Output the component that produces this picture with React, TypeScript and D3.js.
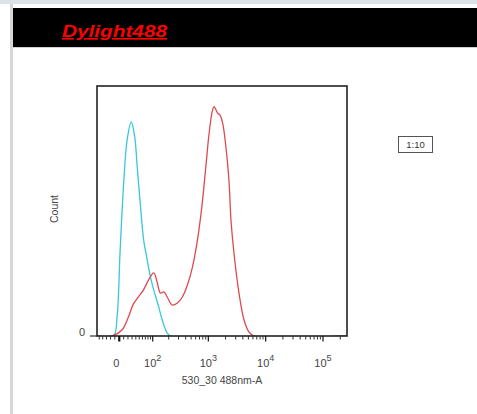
import React from 'react';
import * as d3 from 'd3';

// fluorescence value (530/30 488nm-A) and % of max count
const blueX = [-57, -13, -5, 2, 10, 18, 28, 37, 44, 54, 64, 77, 90, 105, 131, 152, 188, 216, 262144];
const blueY = [0, 0, 8.3, 37.5, 66.7, 85.5, 93.3, 86.8, 73.7, 56.2, 41.9, 33.1, 25.7, 20, 12.6, 7, 1.3, 0, 0];

const redX = [-57, -17, 6, 21, 33, 47, 63, 82, 105, 122, 141, 163, 188, 232, 286, 351, 430, 527, 646, 769, 904, 1033, 1184, 1263, 1449, 1590, 1775, 2028, 2290, 2483, 2800, 3427, 4193, 5134, 6286, 262144];
const redY = [0, 0, 2.6, 8.3, 13.8, 17, 20, 24.4, 27.5, 23.5, 18.7, 19.2, 17, 13.5, 14.4, 17, 22.2, 30, 41.9, 56.2, 73.7, 88.5, 98.5, 100, 97.2, 96.4, 92.9, 82.4, 68, 50.6, 36.2, 18.7, 7, 1.7, 0, 0];

const majorTicks = [0, 100, 1000, 10000, 100000];
const majorLabels = ['0', '2', '3', '4', '5'];
const minorTicks = [-50, -40, -30, -20, -10, 10, 20, 30, 40, 50, 60, 70, 80, 90,
  200, 300, 400, 500, 600, 700, 800, 900,
  2000, 3000, 4000, 5000, 6000, 7000, 8000, 9000,
  20000, 30000, 40000, 50000, 60000, 70000, 80000, 90000, 200000];

const A = 56;
const font = 'Arial, "Liberation Sans", sans-serif';

export default function App() {
  const left = 97, right = 347, top = 86, bottom = 336;
  const lin = d3.scaleLinear()
    .domain([Math.asinh(-57 / A), Math.asinh(262144 / A)])
    .range([left, right]);
  const x = (v: number) => lin(Math.asinh(v / A));
  const y = d3.scaleLinear().domain([0, 109]).range([bottom, top]);

  const line = d3.line<[number, number]>()
    .x(d => x(d[0]))
    .y(d => Math.min(bottom, y(d[1])))
    .curve(d3.curveCatmullRom.alpha(0.5));

  const blue = blueX.map((v, i) => [v, blueY[i]] as [number, number]);
  const red = redX.map((v, i) => [v, redY[i]] as [number, number]);

  return (
    <div style={{ position: 'fixed', left: 0, top: 0 }}>
      <svg width={477} height={414} style={{ display: 'block', fontFamily: font }}>
        <rect x={0} y={0} width={477} height={414} fill="#fff" />
        <rect x={0} y={0} width={477} height={4} fill="#dde2e8" />
        <rect x={10} y={4} width={3} height={410} fill="#d6d6d6" />
        <rect x={13} y={8} width={464} height={39} fill="#000" />
        <rect x={13} y={47} width={464} height={1} fill="#d0d0d0" />
        <text x={62} y={37} fontSize={16.5} fontWeight="bold" fontStyle="italic" fill="#f00"
          textDecoration="underline" textLength={105} lengthAdjust="spacingAndGlyphs">Dylight488</text>

        <clipPath id="plot">
          <rect x={left} y={top} width={right - left} height={bottom - top} />
        </clipPath>
        <g clipPath="url(#plot)" fill="none" strokeWidth={1.3}>
          <path d={line(blue) ?? ''} stroke="#38c7dc" />
          <path d={line(red) ?? ''} stroke="#e0484e" />
        </g>
        <rect x={left} y={top} width={right - left} height={bottom - top} fill="none" stroke="#222" strokeWidth={1.6} />

        {minorTicks.map(t => (
          <line key={'m' + t} x1={x(t)} x2={x(t)} y1={bottom} y2={bottom + 3.5} stroke="#333" strokeWidth={1} />
        ))}
        {majorTicks.map(t => (
          <line key={'M' + t} x1={x(t)} x2={x(t)} y1={bottom} y2={bottom + 5.5} stroke="#111" strokeWidth={t === 0 ? 2.2 : 1.2} />
        ))}
        {majorTicks.map((t, i) => (
          i === 0
            ? <text key={'l' + t} x={x(t) - 3} y={367} fontSize={11} fill="#444" textAnchor="middle">0</text>
            : <text key={'l' + t} x={x(t)} y={367} fontSize={11} fill="#444" textAnchor="middle">
                10<tspan dy={-6} fontSize={9}>{majorLabels[i]}</tspan>
              </text>
        ))}
        <text x={222} y={384} fontSize={10.5} fill="#444" textAnchor="middle">530_30 488nm-A</text>

        <line x1={90} x2={left} y1={bottom} y2={bottom} stroke="#333" strokeWidth={1.2} />
        <text x={82} y={336} fontSize={11} fill="#444" textAnchor="middle">0</text>
        <text transform="translate(58,209) rotate(-90)" fontSize={10.5} fill="#444" textAnchor="middle">Count</text>

        <rect x={398.5} y={136.5} width={34} height={16} fill="#fff" stroke="#555" strokeWidth={1} />
        <text x={415.5} y={148} fontSize={9.5} fill="#333" textAnchor="middle">1:10</text>
      </svg>
    </div>
  );
}
